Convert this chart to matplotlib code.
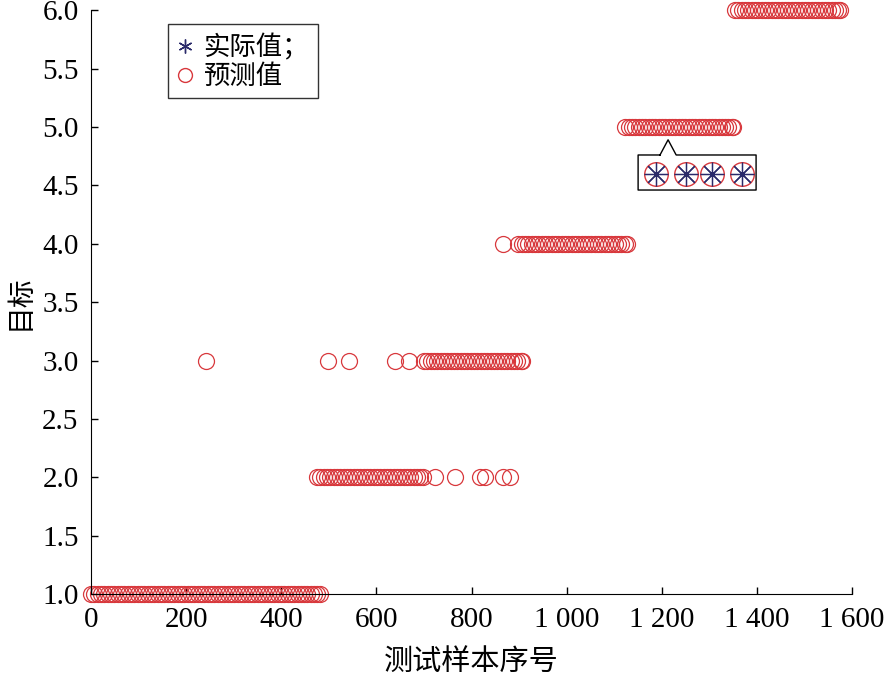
import numpy as np
import matplotlib.pyplot as plt
from matplotlib.lines import Line2D

plt.rcParams['font.family'] = ['Liberation Serif', 'Noto Sans CJK SC']
plt.rcParams['axes.unicode_minus'] = False

# dense runs of predicted values: start, end, class
run_start = [0, 475, 700, 898, 1123, 1354]
run_end = [481, 698, 906, 1127, 1350, 1575]
run_class = [1, 2, 3, 4, 5, 6]
step = 7

# isolated predicted points
iso_x = [242, 498, 542, 639, 669, 723, 765, 818, 828, 866, 881, 866]
iso_y = [3, 3, 3, 3, 3, 2, 2, 2, 2, 2, 2, 4]

# magnified detail callout
detail_x = [1187, 1250, 1306, 1369]
detail_y = [4.6, 4.6, 4.6, 4.6]

x_ticks = [0, 200, 400, 600, 800, 1000, 1200, 1400, 1600]
x_labels = ['0', '200', '400', '600', '800', '1 000', '1 200', '1 400', '1 600']
y_ticks = [1.0, 1.5, 2.0, 2.5, 3.0, 3.5, 4.0, 4.5, 5.0, 5.5, 6.0]

red = '#d8383c'
navy = '#2a2a6a'

xs, ys = [], []
for s, e, c in zip(run_start, run_end, run_class):
    pts = list(range(s, e, step)) + [e]
    xs += pts
    ys += [c] * len(pts)
xs += iso_x
ys += iso_y

fig = plt.figure(figsize=(8.84, 6.76), dpi=100)
ax = fig.add_axes([0.103, 0.121, 0.861, 0.864])

ax.plot(xs, ys, 'o', mfc='none', mec=red, ms=11.5, mew=0.9, clip_on=False)

# callout box with pointer
bx0, bx1, by0, by1 = 1150, 1398, 4.46, 4.76
px0, px1, tipx, tipy = 1196, 1230, 1213, 4.89
ax.plot([px0, bx0, bx0, bx1, bx1, px1, tipx, px0],
        [by1, by1, by0, by0, by1, by1, tipy, by1],
        color='black', lw=1.0, clip_on=False)
ax.plot(detail_x, detail_y, 'o', mfc='none', mec=red, ms=17, mew=1.0)
ax.plot(detail_x, detail_y, marker=(8, 2, 0), ls='none', mec=navy, ms=17, mew=0.9)

ax.set_xlim(0, 1600)
ax.set_ylim(1.0, 6.0)
ax.set_xticks(x_ticks)
ax.set_xticklabels(x_labels)
ax.set_yticks(y_ticks)
ax.set_yticklabels(['%.1f' % v for v in y_ticks])
ax.tick_params(direction='in', labelsize=21, length=5, width=1)
ax.tick_params(axis='x', pad=9)
ax.tick_params(axis='y', pad=9)
ax.spines['top'].set_visible(False)
ax.spines['right'].set_visible(False)
ax.set_xlabel('测试样本序号', fontsize=21, labelpad=12)
ax.set_ylabel('目标', fontsize=20, labelpad=6)

handles = [Line2D([], [], ls='none', marker=(6, 2, 0), color=navy, mew=1.0, ms=10),
           Line2D([], [], ls='none', marker='o', mfc='none', mec=red, ms=10)]
leg = ax.legend(handles, ['实际值；', '预测值'], loc='upper left',
                bbox_to_anchor=(0.101, 0.976), fontsize=19, frameon=True,
                fancybox=False, edgecolor='black', handlelength=0.6,
                handletextpad=0.4, borderpad=0.35, labelspacing=0.15,
                borderaxespad=0)
leg.get_frame().set_linewidth(1.0)

fig.savefig('out.png', dpi=100)
